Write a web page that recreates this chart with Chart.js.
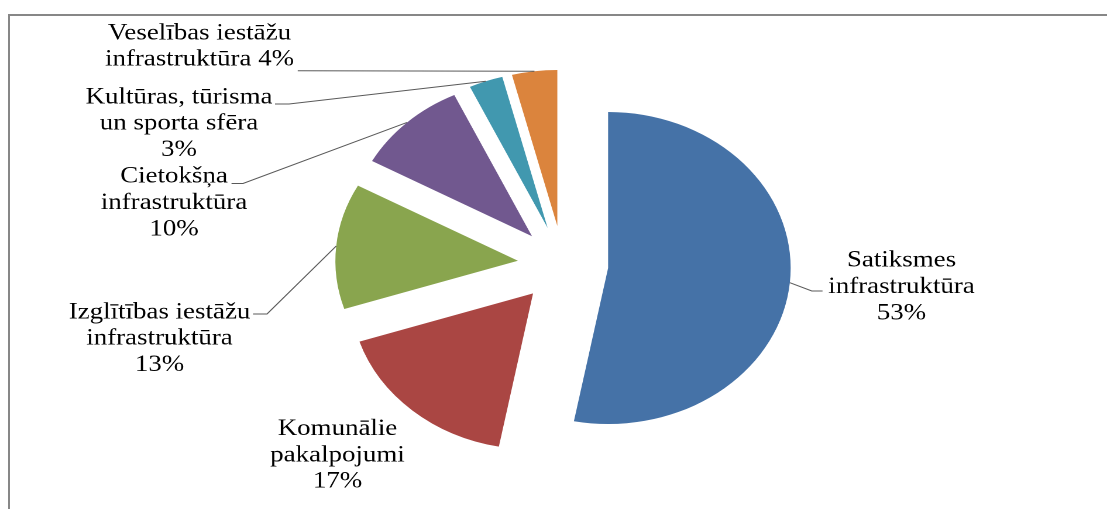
<!DOCTYPE html>
<html>
<head>
<meta charset="utf-8">
<script src="https://cdn.jsdelivr.net/npm/chart.js@4.4.1/dist/chart.umd.min.js"></script>
<style>
  html, body { margin: 0; padding: 0; overflow: hidden; background: #fff; width: 1107px; height: 509px; }
  #frame { position: absolute; left: 8px; top: 14px; width: 1200px; height: 600px; border: 2px solid #878787; }
  #wrap { position: absolute; left: 0; top: 0; width: 946px; height: 509px; transform: scaleX(1.1702); transform-origin: 0 0; }
</style>
</head>
<body>
<div id="frame"></div>
<div id="wrap"><canvas id="chart"></canvas></div>
<script>
const categories = [
  'Satiksmes infrastruktūra',
  'Komunālie pakalpojumi',
  'Izglītības iestāžu infrastruktūra',
  'Cietokšņa infrastruktūra',
  'Kultūras, tūrisma un sporta sfēra',
  'Veselības iestāžu infrastruktūra'
];
const shares = [53, 17, 13, 10, 3, 4];
const nameLines = [
  ['Satiksmes', 'infrastruktūra'],
  ['Komunālie', 'pakalpojumi'],
  ['Izglītības iestāžu', 'infrastruktūra'],
  ['Cietokšņa', 'infrastruktūra'],
  ['Kultūras, tūrisma', 'un sporta sfēra'],
  ['Veselības iestāžu', 'infrastruktūra']
];
const colors = ['#4572A7', '#AA4643', '#89A54E', '#71588F', '#4198AF', '#DB843D'];

// the original picture is stretched sideways, so the canvas is too
const SX = 1107 / 946;
const RADIUS = 156;
const EXPLODE = 38.7;    // how far every slice is pulled out
const CENTER = { x: 563, y: 264.4 };
const LINE_H = 26.3;

// label spots in pixels of the final picture: x = centre of text, y = first baseline
// hook = [x where the line leaves the text, y, x of the elbow]
const labelSpots = [
  { x: 901.5, y: 266.7, hook: [822.5, 291, 811.8] },
  { x: 337.5, y: 435, hook: null },
  { x: 159.5, y: 318.3, hook: [253, 314, 267] },
  { x: 174, y: 182.7, hook: [231.5, 183.5, 243] },
  { x: 179, y: 103.3, hook: [275, 104, 289] },
  { x: 199.5, y: 39.3, hook: [297.7, 70.7, 297.7], inline: true }
];

// move every slice out along its middle angle by the same distance
const explode = {
  id: 'explode',
  afterDatasetsUpdate(chart) {
    chart.getDatasetMeta(0).data.forEach(arc => {
      const mid = (arc.startAngle + arc.endAngle) / 2;
      arc.x += Math.cos(mid) * EXPLODE;
      arc.y += Math.sin(mid) * EXPLODE;
    });
  }
};

const pieLabels = {
  id: 'pieLabels',
  afterDraw(chart) {
    const ctx = chart.ctx;
    const arcs = chart.getDatasetMeta(0).data;
    ctx.save();
    ctx.font = '23px "Liberation Serif", "Times New Roman", serif';
    ctx.fillStyle = '#000';
    ctx.textAlign = 'center';
    ctx.textBaseline = 'alphabetic';
    ctx.strokeStyle = '#595959';
    ctx.lineWidth = 1;
    arcs.forEach((arc, i) => {
      const spot = labelSpots[i];
      const pct = shares[i] + '%';
      const lines = spot.inline
        ? nameLines[i].slice(0, -1).concat(nameLines[i][nameLines[i].length - 1] + ' ' + pct)
        : nameLines[i].concat(pct);
      lines.forEach((t, k) => ctx.fillText(t, spot.x / SX, spot.y + k * LINE_H));
      if (spot.hook) {
        const mid = (arc.startAngle + arc.endAngle) / 2;
        ctx.beginPath();
        ctx.moveTo(spot.hook[0] / SX, spot.hook[1]);
        ctx.lineTo(spot.hook[2] / SX, spot.hook[1]);
        ctx.lineTo(arc.x + Math.cos(mid) * arc.outerRadius, arc.y + Math.sin(mid) * arc.outerRadius);
        ctx.stroke();
      }
    });
    ctx.restore();
  }
};

const W = 946, H = 509;
new Chart(document.getElementById('chart'), {
  type: 'pie',
  data: {
    labels: categories,
    datasets: [{
      data: shares,
      backgroundColor: colors,
      borderWidth: 0
    }]
  },
  options: {
    responsive: true,
    maintainAspectRatio: false,
    animation: false,
    devicePixelRatio: 2,
    radius: RADIUS,
    layout: {
      padding: {
        left: 2 * CENTER.x / SX - W,
        top: 2 * CENTER.y - H,
        right: 0,
        bottom: 0
      }
    },
    plugins: {
      legend: { display: false },
      tooltip: { enabled: false }
    }
  },
  plugins: [explode, pieLabels]
});
</script>
</body>
</html>
